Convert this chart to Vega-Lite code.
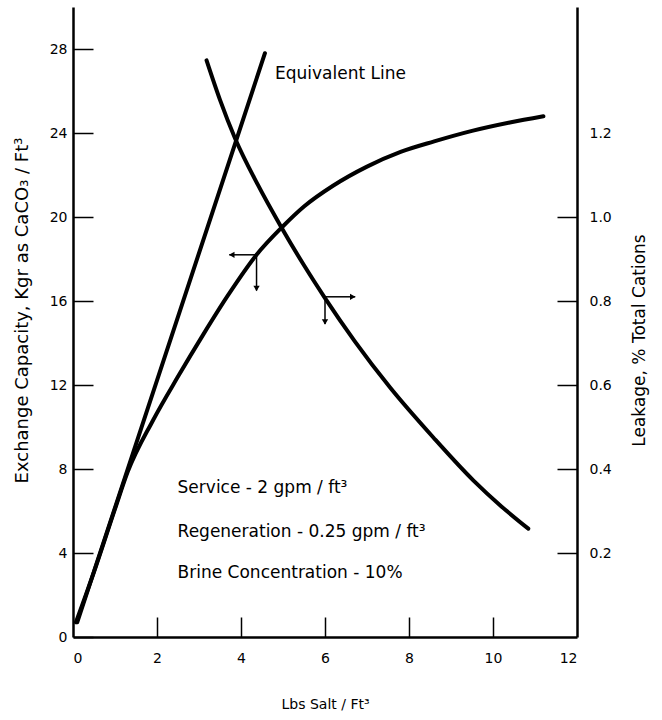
{
  "$schema": "https://vega.github.io/schema/vega-lite/v6.json",
  "width": 504,
  "height": 630,
  "autosize": "none",
  "padding": {"left": 73, "top": 7, "right": 85, "bottom": 83},
  "background": "white",
  "config": {
    "font": "DejaVu Sans",
    "view": {"stroke": null},
    "axis": {
      "grid": false,
      "domainColor": "black",
      "tickColor": "black",
      "labelColor": "black",
      "titleColor": "black",
      "titleFontWeight": "normal",
      "labelFontSize": 14,
      "titleFontSize": 17,
      "domainWidth": 2.5,
      "tickWidth": 1.5,
      "tickSize": -20
    }
  },
  "datasets": {
    "curves": [
      {"x": 0.07, "y": 0.7, "s": "cap"},
      {"x": 0.5, "y": 3.1, "s": "cap"},
      {"x": 1.0, "y": 6.1, "s": "cap"},
      {"x": 1.3, "y": 7.85, "s": "cap"},
      {"x": 1.9, "y": 10.3, "s": "cap"},
      {"x": 2.5, "y": 12.4, "s": "cap"},
      {"x": 3.1, "y": 14.4, "s": "cap"},
      {"x": 3.7, "y": 16.3, "s": "cap"},
      {"x": 4.37, "y": 18.2, "s": "cap"},
      {"x": 4.97, "y": 19.5, "s": "cap"},
      {"x": 5.5, "y": 20.5, "s": "cap"},
      {"x": 6.2, "y": 21.5, "s": "cap"},
      {"x": 7.0, "y": 22.4, "s": "cap"},
      {"x": 7.8, "y": 23.1, "s": "cap"},
      {"x": 8.6, "y": 23.6, "s": "cap"},
      {"x": 9.5, "y": 24.1, "s": "cap"},
      {"x": 10.4, "y": 24.5, "s": "cap"},
      {"x": 11.2, "y": 24.8, "s": "cap"},
      {"x": 0.1, "y": 0.7, "s": "eq"},
      {"x": 4.57, "y": 27.8, "s": "eq"}
    ],
    "leakage": [
      {"x": 3.18, "leak": 1.373},
      {"x": 3.5, "leak": 1.279},
      {"x": 3.86, "leak": 1.187},
      {"x": 4.4, "leak": 1.077},
      {"x": 4.97, "leak": 0.974},
      {"x": 5.5, "leak": 0.885},
      {"x": 6.0, "leak": 0.807},
      {"x": 6.71, "leak": 0.704},
      {"x": 7.55, "leak": 0.594},
      {"x": 8.58, "leak": 0.475},
      {"x": 9.53, "leak": 0.373},
      {"x": 10.2, "leak": 0.311},
      {"x": 10.84, "leak": 0.258}
    ],
    "arrows": [
      {"x": 4.37, "y": 18.2, "x2": 3.72, "y2": 18.2},
      {"x": 4.37, "y": 18.2, "x2": 4.37, "y2": 16.5},
      {"x": 6.0, "y": 16.2, "x2": 6.72, "y2": 16.2},
      {"x": 6.0, "y": 16.2, "x2": 6.0, "y2": 14.9}
    ],
    "heads": [
      {"x": 3.78, "y": 18.2, "shape": "triangle-left"},
      {"x": 4.37, "y": 16.6, "shape": "triangle-down"},
      {"x": 6.66, "y": 16.2, "shape": "triangle-right"},
      {"x": 6.0, "y": 15.0, "shape": "triangle-down"}
    ],
    "notes": [
      {"x": 4.81, "y": 26.8, "t": "Equivalent Line"},
      {"x": 2.49, "y": 7.1, "t": "Service - 2 gpm / ft³"},
      {"x": 2.49, "y": 5.01, "t": "Regeneration - 0.25 gpm / ft³"},
      {"x": 2.49, "y": 3.03, "t": "Brine Concentration - 10%"}
    ]
  },
  "resolve": {"scale": {"y": "independent"}},
  "layer": [
    {
      "encoding": {
        "x": {
          "field": "x", "type": "quantitative",
          "scale": {"domain": [0, 12], "nice": false, "zero": false},
          "axis": {
            "values": [0, 2, 4, 6, 8, 10, 12],
            "title": "Lbs Salt / Ft³",
            "titleFontSize": 14,
            "labelPadding": 34,
            "titlePadding": 32,
            "tickOpacity": {"condition": {"test": "datum.value == 0 || datum.value == 12", "value": 0}, "value": 1}
          }
        },
        "y": {
          "field": "y", "type": "quantitative",
          "scale": {"domain": [0, 30], "nice": false, "zero": false},
          "axis": {
            "values": [0, 4, 8, 12, 16, 20, 24, 28],
            "title": "Exchange Capacity, Kgr as CaCO₃ / Ft³",
            "titleFontSize": 18,
            "titleY": 303,
            "labelPadding": 26,
            "titlePadding": 18
          }
        }
      },
      "layer": [
        {
          "data": {"name": "curves"},
          "mark": {"type": "line", "color": "black", "strokeWidth": 4, "interpolate": "monotone", "strokeCap": "round"},
          "encoding": {"detail": {"field": "s"}}
        },
        {
          "data": {"name": "arrows"},
          "mark": {"type": "rule", "color": "black", "strokeWidth": 1.5},
          "encoding": {"x2": {"field": "x2"}, "y2": {"field": "y2"}}
        },
        {
          "data": {"name": "heads"},
          "mark": {"type": "point", "filled": true, "color": "black", "opacity": 1, "size": 40},
          "encoding": {"shape": {"field": "shape", "type": "nominal", "scale": null}}
        },
        {
          "data": {"name": "notes"},
          "mark": {"type": "text", "align": "left", "baseline": "middle", "fontSize": 17, "color": "black"},
          "encoding": {"text": {"field": "t"}}
        }
      ]
    },
    {
      "data": {"name": "leakage"},
      "mark": {"type": "line", "color": "black", "strokeWidth": 4, "interpolate": "monotone", "strokeCap": "round"},
      "encoding": {
        "x": {
          "field": "x", "type": "quantitative",
          "scale": {"domain": [0, 12], "nice": false, "zero": false},
          "axis": {
            "values": [0, 2, 4, 6, 8, 10, 12],
            "title": "Lbs Salt / Ft³",
            "titleFontSize": 14,
            "labelPadding": 34,
            "titlePadding": 32,
            "tickOpacity": {"condition": {"test": "datum.value == 0 || datum.value == 12", "value": 0}, "value": 1}
          }
        },
        "y": {
          "field": "leak", "type": "quantitative",
          "scale": {"domain": [0, 1.5], "nice": false, "zero": false},
          "axis": {
            "orient": "right",
            "values": [0.2, 0.4, 0.6, 0.8, 1.0, 1.2],
            "format": ".1f",
            "title": "Leakage, % Total Cations",
            "titleAngle": 270,
            "titleBaseline": "top",
            "titleY": 333,
            "labelPadding": 32,
            "titlePadding": 20,
            "tickOpacity": {"condition": {"test": "datum.value > 1.1", "value": 0}, "value": 1}
          }
        }
      }
    }
  ]
}
